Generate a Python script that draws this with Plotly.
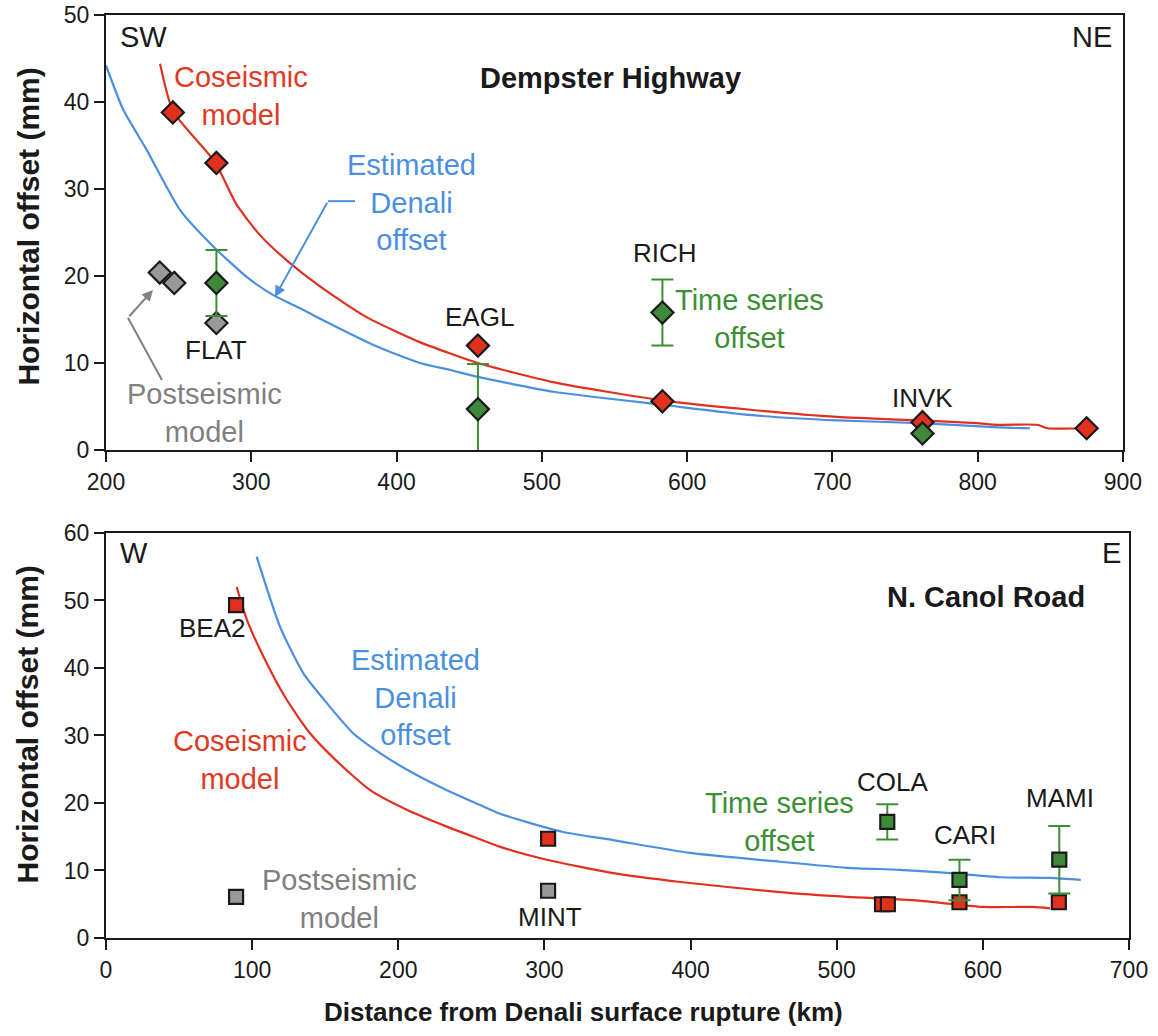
import plotly.graph_objects as go

# ---------------- DATA ----------------
# Top panel: Dempster Highway
dh_cos_line_x = [237.2, 246.3, 275, 289.9, 306, 324.4, 347.3, 379, 416, 437, 456, 507.6, 583, 645, 703, 760, 799, 814, 841, 848, 873]
dh_cos_line_y = [44.4, 38.9, 33.1, 28.2, 24.7, 21.8, 18.8, 15.3, 12.4, 11.1, 10.0, 7.8, 5.7, 4.6, 3.8, 3.4, 3.1, 2.9, 2.9, 2.5, 2.5]
dh_est_line_x = [200, 211.9, 228, 250.9, 273.8, 296.8, 315.1, 333.5, 345, 386.5, 416, 437, 456, 508, 583, 645, 703, 760, 814, 836]
dh_est_line_y = [44.2, 39.1, 34.5, 27.6, 23.4, 19.9, 17.8, 16.3, 15.3, 11.9, 10.0, 9.2, 8.4, 6.7, 5.2, 4.0, 3.4, 3.1, 2.6, 2.5]

dh_cos_pts_x = [246, 276, 456, 583, 762, 875]
dh_cos_pts_y = [38.8, 33.0, 12.0, 5.6, 3.2, 2.5]
dh_post_pts_x = [237, 247, 276]
dh_post_pts_y = [20.4, 19.2, 14.6]
dh_ts_pts_x = [276, 456, 583, 762]
dh_ts_pts_y = [19.2, 4.7, 15.8, 1.9]
dh_ts_err = [3.8, 5.2, 3.8, 0]

# Bottom panel: N. Canol Road
nc_cos_line_x = [89.4, 96.5, 107.7, 122.5, 138.6, 156.5, 180.7, 205.8, 233.2, 251.4, 269.7, 301.6, 347, 393, 461, 507, 552, 600, 634, 646]
nc_cos_line_y = [52.0, 47.1, 41.7, 35.7, 30.6, 26.5, 21.9, 19.0, 16.5, 15.0, 13.5, 11.6, 9.6, 8.3, 6.8, 6.1, 5.6, 4.6, 4.6, 4.4]
nc_est_line_x = [103.1, 119.1, 135.1, 151.1, 169.3, 187.5, 210.3, 233.2, 256, 269.7, 312.8, 347, 399.7, 461, 507, 543, 578, 612, 646, 667]
nc_est_line_y = [56.5, 46.1, 39.2, 34.8, 30.3, 27.4, 24.4, 21.9, 19.7, 18.4, 15.7, 14.5, 12.6, 11.3, 10.4, 10.1, 9.6, 9.0, 8.9, 8.6]

nc_cos_pts_x = [89, 302.5, 531, 535, 584, 652]
nc_cos_pts_y = [49.3, 14.7, 5.0, 5.0, 5.3, 5.3]
nc_post_pts_x = [89, 302.5]
nc_post_pts_y = [6.1, 7.0]
nc_ts_pts_x = [534.6, 584, 652.3]
nc_ts_pts_y = [17.2, 8.6, 11.6]
nc_ts_err = [2.6, 3.0, 5.0]

# ---------------- STYLE ----------------
RED = "#e2301f"
RED_TXT = "#e03a24"
BLUE = "#4a8fe0"
GREEN = "#3d8f34"
GREEN_FILL = "#3f8a3a"
GRAY_TXT = "#808080"
GRAY_FILL = "#999999"
FONT = "Liberation Sans, Arial, sans-serif"

fig = go.Figure()

def line(x, y, color, xa, ya):
    fig.add_trace(go.Scatter(x=x, y=y, mode="lines",
                             line=dict(color=color, width=2.2, shape="spline", smoothing=0.6),
                             xaxis=xa, yaxis=ya, showlegend=False, hoverinfo="skip"))

def pts(x, y, fill, symbol, size, xa, ya, err=None):
    kw = {}
    if err is not None:
        kw["error_y"] = dict(type="data", array=err, visible=True, color=GREEN, thickness=2, width=11)
    fig.add_trace(go.Scatter(x=x, y=y, mode="markers",
                             marker=dict(symbol=symbol, size=size, color=fill, line=dict(color="#1a1a1a", width=2.2)),
                             xaxis=xa, yaxis=ya, showlegend=False, **kw))

# top panel
line(dh_est_line_x, dh_est_line_y, BLUE, "x", "y")
line(dh_cos_line_x, dh_cos_line_y, RED, "x", "y")
pts(dh_post_pts_x, dh_post_pts_y, GRAY_FILL, "diamond", 17, "x", "y")
pts(dh_cos_pts_x, dh_cos_pts_y, RED, "diamond", 17, "x", "y")
pts(dh_ts_pts_x, dh_ts_pts_y, GREEN_FILL, "diamond", 17, "x", "y", dh_ts_err)

# bottom panel
line(nc_est_line_x, nc_est_line_y, BLUE, "x2", "y2")
line(nc_cos_line_x, nc_cos_line_y, RED, "x2", "y2")
pts(nc_post_pts_x, nc_post_pts_y, GRAY_FILL, "square", 14, "x2", "y2")
pts(nc_cos_pts_x, nc_cos_pts_y, RED, "square", 14, "x2", "y2")
pts(nc_ts_pts_x, nc_ts_pts_y, GREEN_FILL, "square", 14, "x2", "y2", nc_ts_err)

ann = []
def txt(text, x, y, xa, ya, color="#1a1a1a", size=26, bold=False, xanchor="center"):
    t = f"<b>{text}</b>" if bold else text
    ann.append(dict(text=t, x=x, y=y, xref=xa, yref=ya, showarrow=False, xanchor=xanchor,
                    yanchor="middle", font=dict(family=FONT, size=size, color=color)))

LBL = 29
# top panel annotations
txt("SW", 208, 47.5, "x", "y", size=29, xanchor="left")
txt("NE", 894, 47.5, "x", "y", size=29, xanchor="right")
txt("Dempster Highway", 547, 42.8, "x", "y", size=29, bold=True)
txt("Coseismic<br>model", 293, 40.7, "x", "y", color=RED_TXT, size=LBL)
txt("Estimated<br>Denali<br>offset", 410, 28.4, "x", "y", color=BLUE, size=LBL)
txt("Postseismic<br>model", 268, 4.3, "x", "y", color=GRAY_TXT, size=LBL)
txt("FLAT", 276, 11.5, "x", "y")
txt("EAGL", 457, 15.3, "x", "y")
txt("RICH", 585, 22.6, "x", "y")
txt("Time series<br>offset", 643, 15.1, "x", "y", color=GREEN, size=LBL)
txt("INVK", 762, 6.0, "x", "y")

# bottom panel annotations
txt("W", 8, 57, "x2", "y2", size=29, xanchor="left")
txt("E", 696, 57, "x2", "y2", size=29, xanchor="right")
txt("N. Canol Road", 602, 50.5, "x2", "y2", size=29, bold=True)
txt("BEA2", 72.6, 45.9, "x2", "y2")
txt("Estimated<br>Denali<br>offset", 211.5, 35.7, "x2", "y2", color=BLUE, size=LBL)
txt("Coseismic<br>model", 91.7, 26.4, "x2", "y2", color=RED_TXT, size=LBL)
txt("Postseismic<br>model", 160, 5.8, "x2", "y2", color=GRAY_TXT, size=LBL)
txt("MINT", 304, 3.1, "x2", "y2")
txt("Time series<br>offset", 461, 17.2, "x2", "y2", color=GREEN, size=LBL)
txt("COLA", 538, 23.1, "x2", "y2")
txt("CARI", 588, 15.3, "x2", "y2")
txt("MAMI", 653, 20.7, "x2", "y2")

# arrows (top panel)
ann.append(dict(x=316.3, y=17.6, ax=352.8, ay=28.6, xref="x", yref="y", axref="x", ayref="y",
                showarrow=True, arrowhead=2, arrowsize=1.1, arrowwidth=2, arrowcolor=BLUE, text=""))
ann.append(dict(x=232.3, y=18.4, ax=215.1, ay=15.2, xref="x", yref="y", axref="x", ayref="y",
                showarrow=True, arrowhead=2, arrowsize=1.1, arrowwidth=2, arrowcolor=GRAY_TXT, text=""))
shapes = [
    dict(type="line", x0=371.4, y0=28.6, x1=352.8, y1=28.6, xref="x", yref="y", line=dict(color=BLUE, width=2)),
    dict(type="line", x0=238.5, y0=8.05, x1=215.1, y1=15.2, xref="x", yref="y", line=dict(color=GRAY_TXT, width=2)),
]

# axis titles
for yc in (0.7703, 0.2308):
    ann.append(dict(text="<b>Horizontal offset (mm)</b>", x=-0.0767, y=yc, xref="paper", yref="paper",
                    showarrow=False, textangle=-90, xanchor="center", yanchor="middle",
                    font=dict(family=FONT, size=30, color="#1a1a1a")))
ann.append(dict(text="<b>Distance from Denali surface rupture (km)</b>", x=0.467, y=-0.0802,
                xref="paper", yref="paper", showarrow=False, xanchor="center", yanchor="middle",
                font=dict(family=FONT, size=26, color="#1a1a1a")))

axis_common = dict(showline=True, linecolor="#1a1a1a", linewidth=2, mirror=True, showgrid=False,
                   zeroline=False, ticks="outside", ticklen=10, tickwidth=2, tickcolor="#1a1a1a",
                   automargin=False, ticklabeloverflow="allow",
                   tickfont=dict(family=FONT, size=23, color="#1a1a1a"))

fig.update_layout(
    width=1158, height=1036,
    margin=dict(l=106, r=29, t=15, b=98),
    paper_bgcolor="white", plot_bgcolor="white",
    showlegend=False,
    xaxis=dict(domain=[0, 0.9941], range=[200, 900], dtick=100, anchor="y", **axis_common),
    yaxis=dict(domain=[0.5287, 1], range=[0, 50], dtick=10, anchor="x", **axis_common),
    xaxis2=dict(domain=[0, 1], range=[0, 700], dtick=100, anchor="y2", **axis_common),
    yaxis2=dict(domain=[0, 0.4388], range=[0, 60], dtick=10, anchor="x2", **axis_common),
    annotations=ann,
    shapes=shapes,
)

# remove the default page margin so the figure sits at the window's top-left corner
fig.write_html("out.html", config={"displayModeBar": False},
               post_script="document.body.style.margin='0';")
